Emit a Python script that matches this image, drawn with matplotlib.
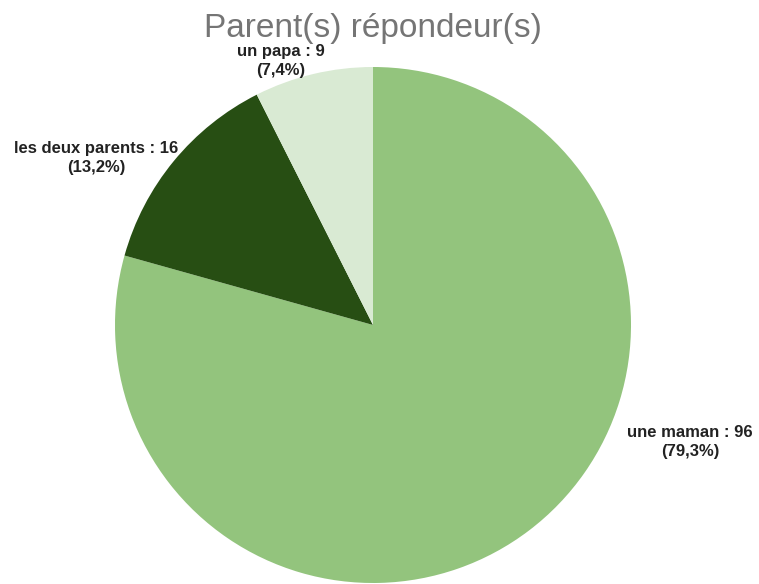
import matplotlib.pyplot as plt

# Data
categories = ["une maman", "les deux parents", "un papa"]
values = [96, 16, 9]
colors = ["#93c47d", "#274e13", "#d9ead3"]
title = "Parent(s) répondeur(s)"

# label anchor points in pixels (x, y from top)
label_pos = [(690, 442), (96, 158), (281, 61)]

W, H = 759, 584
fig = plt.figure(figsize=(W / 100, H / 100), dpi=100)
ax = fig.add_axes([0, 0, 1, 1])

ax.pie(values, colors=colors, startangle=90, counterclock=False,
       center=(373, H - 325), radius=258,
       wedgeprops=dict(linewidth=0))

# pie() resets the limits, so set them afterwards
ax.set_xlim(0, W)
ax.set_ylim(0, H)
ax.set_aspect("equal")
ax.axis("off")

total = sum(values)
for name, v, (px, py) in zip(categories, values, label_pos):
    pct = f"{100 * v / total:.1f}".replace(".", ",")
    ax.text(px, H - py, f"{name} : {v}\n({pct}%)", ha="center", va="center",
            fontsize=12, fontweight="bold", color="#222222",
            family="Liberation Sans", linespacing=1.3)

ax.text(373, H - 37, title, ha="center", va="baseline", fontsize=24,
        color="#757575", family="Liberation Sans")

fig.savefig("out.png", dpi=100)
